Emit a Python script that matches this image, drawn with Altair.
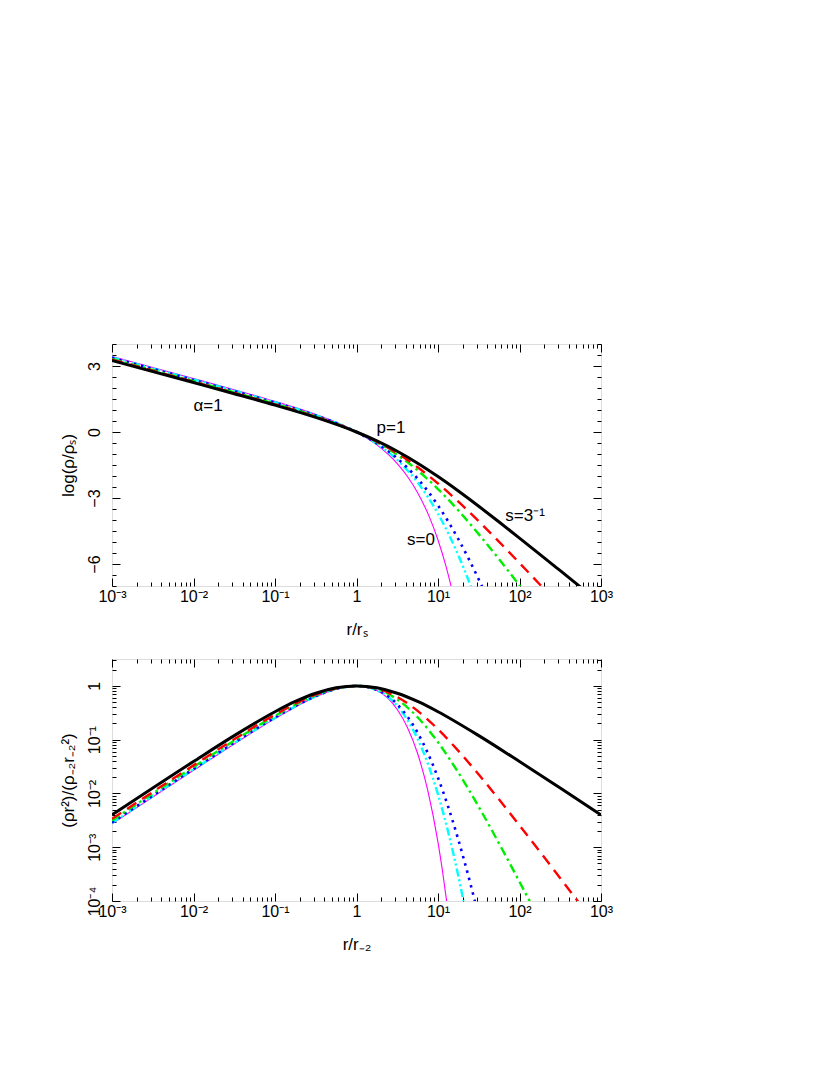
import altair as alt
import pandas as pd

FONT = "Liberation Sans"

# ---------------- data ----------------
# Top panel: x = log10(r/r_s), y = log(rho/rho_s)
t_black_L = [-3, -2, -1.5, -1, -0.5, 0, 0.25, 0.5, 0.75, 1, 1.25, 1.5, 1.75, 2, 2.25, 2.5, 2.75]
t_black_v = [3.250, 2.247, 1.741, 1.221, 0.663, 0.0, -0.404, -0.875, -1.417, -2.024, -2.681, -3.375, -4.091, -4.822, -5.560, -6.304, -7.050]
t_red_L = [-3, -2, -1.5, -1, -0.5, 0, 0.25, 0.5, 0.75, 1, 1.25, 1.5, 1.75, 2, 2.25, 2.5]
t_red_v = [3.290, 2.287, 1.780, 1.259, 0.692, 0.0, -0.439, -0.968, -1.603, -2.341, -3.168, -4.058, -4.993, -5.954, -6.932, -7.920]
t_green_L = [-3, -2, -1.5, -1, -0.5, 0, 0.25, 0.5, 0.75, 1, 1.25, 1.5, 1.75, 2, 2.25]
t_green_v = [3.316, 2.313, 1.806, 1.282, 0.710, 0.0, -0.462, -1.035, -1.742, -2.592, -3.568, -4.642, -5.785, -6.972, -8.186]
t_blue_L = [-3, -2, -1.5, -1, -0.5, 0, 0.25, 0.5, 0.75, 1, 1.125, 1.25, 1.375, 1.5, 1.6]
t_blue_v = [3.372, 2.369, 1.860, 1.334, 0.751, 0.0, -0.517, -1.202, -2.121, -3.337, -4.065, -4.872, -5.753, -6.702, -7.503]
t_cyan_L = [-3, -2, -1.5, -1, -0.5, 0, 0.25, 0.5, 0.75, 1, 1.125, 1.25, 1.325, 1.4, 1.45]
t_cyan_v = [3.392, 2.388, 1.880, 1.352, 0.766, 0.0, -0.539, -1.271, -2.294, -3.713, -4.600, -5.611, -6.278, -6.989, -7.486]
t_mag_L = [-3, -2, -1.5, -1, -0.5, 0, 0.25, 0.5, 0.625, 0.75, 0.9, 1, 1.1, 1.15, 1.2]
t_mag_v = [3.434, 2.430, 1.921, 1.391, 0.797, 0.0, -0.588, -1.439, -2.022, -2.758, -3.915, -4.909, -6.133, -6.850, -7.649]

# Bottom panel: x = log10(r/r_-2), y = log10 of (rho r^2)/(rho_-2 r_-2^2)
b_black_L = [-3, -2, -1.5, -1, -0.75, -0.5, -0.25, 0, 0.25, 0.5, 0.75, 1, 1.5, 2, 2.5, 3]
b_black_v = [-2.399, -1.407, -0.925, -0.481, -0.290, -0.137, -0.036, 0.0, -0.036, -0.137, -0.290, -0.481, -0.925, -1.407, -1.901, -2.399]
b_red_L = [-3, -2, -1.5, -1, -0.5, -0.25, 0, 0.25, 0.5, 0.75, 1, 1.25, 1.5, 1.75, 2, 2.5, 2.75]
b_red_v = [-2.472, -1.478, -0.992, -0.535, -0.163, -0.045, 0.0, -0.051, -0.207, -0.465, -0.806, -1.208, -1.649, -2.114, -2.594, -3.577, -4.073]
b_green_L = [-3, -2, -1.5, -1, -0.5, -0.25, 0, 0.25, 0.5, 0.75, 1, 1.25, 1.5, 1.75, 2, 2.25]
b_green_v = [-2.501, -1.506, -1.018, -0.557, -0.174, -0.049, 0.0, -0.059, -0.251, -0.584, -1.048, -1.613, -2.249, -2.932, -3.643, -4.371]
b_blue_L = [-3, -2, -1.5, -1, -0.5, -0.25, 0, 0.25, 0.5, 0.75, 0.875, 1, 1.125, 1.25, 1.325, 1.4, 1.45, 1.5]
b_blue_v = [-2.540, -1.545, -1.055, -0.588, -0.191, -0.055, 0.0, -0.074, -0.342, -0.870, -1.250, -1.709, -2.249, -2.864, -3.267, -3.693, -3.989, -4.293]
b_cyan_L = [-3, -2, -1.5, -1, -0.5, -0.25, 0, 0.25, 0.5, 0.75, 0.875, 1, 1.125, 1.25, 1.3, 1.35]
b_cyan_v = [-2.550, -1.554, -1.064, -0.596, -0.196, -0.057, 0.0, -0.079, -0.373, -0.985, -1.443, -2.018, -2.717, -3.540, -3.905, -4.288]
b_mag_L = [-3, -2, -1.5, -1, -0.5, -0.25, 0, 0.25, 0.5, 0.625, 0.75, 0.875, 1, 1.05, 1.1, 1.125]
b_mag_v = [-2.566, -1.570, -1.079, -0.609, -0.203, -0.060, 0.0, -0.088, -0.439, -0.772, -1.258, -1.947, -2.909, -3.389, -3.933, -4.232]

# Annotations of the top panel (r, y, text)
ann_r = [0.0151, 2.65, 6.19, 117.0]
ann_y = [1.17, 0.20, -4.90, -3.80]
ann_t = ["α=1", "p=1", "s=0", "s=3⁻¹"]

# Tick labels
x_exps = [-3, -2, -1, 0, 1, 2, 3]
x_labels = ["10⁻³", "10⁻²", "10⁻¹", "1", "10¹", "10²", "10³"]
ty_vals = [-6, -3, 0, 3]
ty_labels = ["−6", "−3", "0", "3"]
by_exps = [-4, -3, -2, -1, 0]
by_labels = ["10⁻⁴", "10⁻³", "10⁻²", "10⁻¹", "1"]

# ---------------- styles ----------------
ORDER = ["s=0", "s=1/15", "s=1/10", "s=1/5", "s=1/4", "s=1/3"]
STYLE = {
    "s=0": dict(color="#ff00ff", strokeWidth=1.1),
    "s=1/15": dict(color="#00ffff", strokeWidth=2.4, strokeDash=[8, 3, 2, 3, 2, 3]),
    "s=1/10": dict(color="#0000ff", strokeWidth=2.6, strokeDash=[2.5, 5]),
    "s=1/5": dict(color="#00ee00", strokeWidth=2.4, strokeDash=[9, 4, 2.5, 4]),
    "s=1/4": dict(color="#ff0000", strokeWidth=2.4, strokeDash=[11, 7]),
    "s=1/3": dict(color="#000000", strokeWidth=3.0),
}

top_series = {
    "s=0": (t_mag_L, t_mag_v), "s=1/15": (t_cyan_L, t_cyan_v), "s=1/10": (t_blue_L, t_blue_v),
    "s=1/5": (t_green_L, t_green_v), "s=1/4": (t_red_L, t_red_v), "s=1/3": (t_black_L, t_black_v),
}
bot_series = {
    "s=0": (b_mag_L, b_mag_v), "s=1/15": (b_cyan_L, b_cyan_v), "s=1/10": (b_blue_L, b_blue_v),
    "s=1/5": (b_green_L, b_green_v), "s=1/4": (b_red_L, b_red_v), "s=1/3": (b_black_L, b_black_v),
}


def frame(series, ylog):
    rows = []
    for name, (Ls, vs) in series.items():
        for L, v in zip(Ls, vs):
            rows.append({"series": name, "r": 10.0 ** L, "v": (10.0 ** v) if ylog else v})
    return pd.DataFrame(rows)


def log_expr(exps, labels):
    parts = [f"round(log(datum.value)/LN10) == {e} ? '{l}'" for e, l in zip(exps, labels)]
    return " : ".join(parts) + " : ''"


def lin_expr(vals, labels):
    parts = [f"round(datum.value) == {v} ? '{l}'" for v, l in zip(vals, labels)]
    return " : ".join(parts) + " : ''"


x_major = [10.0 ** e for e in x_exps]
x_minor = [k * 10.0 ** e for e in range(-3, 3) for k in range(2, 10)]

W, H = 489, 242
MAJ, MIN = 8, 4


def tick_axis(orient, values, size):
    return alt.Axis(orient=orient, values=values, tickSize=size, offset=-size, labels=False,
                    domain=False, grid=False, title=None, tickColor="black", tickWidth=1)


def panel(series, ylog, ydomain, xtitle, ytitle, y_major, y_minor, y_expr, ann=None):
    df = frame(series, ylog)
    xs = alt.Scale(type="log", domain=[1e-3, 1e3], nice=False)
    if ylog:
        ys = alt.Scale(type="log", domain=ydomain, nice=False)
    else:
        ys = alt.Scale(type="linear", domain=ydomain, nice=False, zero=False)

    x_main = alt.Axis(orient="bottom", values=x_major, labelExpr=log_expr(x_exps, x_labels),
                      tickSize=MAJ, offset=-MAJ, domain=False, grid=False, labelPadding=2,
                      labelFontSize=16, labelFont=FONT, labelColor="black", tickColor="black",
                      title=xtitle, titleFontSize=17, titleFont=FONT, titleFontWeight="normal",
                      titleColor="black", titlePadding=17, labelFlush=False, labelOverlap=False)
    y_main = alt.Axis(orient="left", values=y_major, labelExpr=y_expr, labelAngle=270,
                      labelAlign="center", labelBaseline="bottom",
                      tickSize=MAJ, offset=-MAJ, domain=False, grid=False, labelPadding=10,
                      labelFontSize=16, labelFont=FONT, labelColor="black", tickColor="black",
                      title=ytitle, titleFontSize=17, titleFont=FONT, titleFontWeight="normal",
                      titleColor="black", titlePadding=9, labelFlush=False, labelOverlap=False)

    layers = []
    first = True
    for name in ORDER:
        sub = df[df["series"] == name]
        if first:
            xe = alt.X("r:Q", scale=xs, axis=x_main)
            ye = alt.Y("v:Q", scale=ys, axis=y_main)
            first = False
        else:
            xe = alt.X("r:Q", scale=xs, axis=None)
            ye = alt.Y("v:Q", scale=ys, axis=None)
        layers.append(alt.Chart(sub).mark_line(clip=True, interpolate="monotone", **STYLE[name])
                      .encode(x=xe, y=ye))

    if ann is not None:
        layers.append(alt.Chart(ann).mark_text(font=FONT, fontSize=17, color="black",
                                               align="center", baseline="middle")
                      .encode(x=alt.X("r:Q", scale=xs, axis=None),
                              y=alt.Y("v:Q", scale=ys, axis=None), text="t:N"))

    ref = df[df["series"] == "s=1/3"]
    for xo, yo, size, xv, yv in [("bottom", "left", MIN, x_minor, y_minor),
                                 ("top", "right", MAJ, x_major, y_major),
                                 ("top", "right", MIN, x_minor, y_minor)]:
        layers.append(alt.Chart(ref).mark_point(opacity=0, clip=True)
                      .encode(x=alt.X("r:Q", scale=xs, axis=tick_axis(xo, xv, size)),
                              y=alt.Y("v:Q", scale=ys, axis=tick_axis(yo, yv, size))))

    return alt.layer(*layers).resolve_axis(x="independent", y="independent").properties(width=W, height=H)


ann_df = pd.DataFrame({"r": ann_r, "v": ann_y, "t": ann_t})

ty_minor = [-7 + 0.5 * i for i in range(23) if (-7 + 0.5 * i) not in ty_vals]
top = panel(top_series, False, [-7, 4], "r/rₛ", "log(ρ/ρₛ)", ty_vals, ty_minor,
            lin_expr(ty_vals, ty_labels), ann=ann_df)

by_major = [10.0 ** e for e in by_exps]
by_minor = [k * 10.0 ** e for e in range(-4, 1) for k in range(2, 10) if k * 10.0 ** e < 3.16]
bottom = panel(bot_series, True, [1e-4, 10 ** 0.5], "r/r₋₂", "(ρr²)/(ρ₋₂r₋₂²)", by_major, by_minor,
               log_expr(by_exps, by_labels))

chart = alt.vconcat(top, bottom, spacing=73, bounds="flush").properties(
    padding={"left": 50, "top": 335, "right": 5, "bottom": 5}
).configure_view(stroke="black", strokeWidth=1.5).configure(background="white")

chart.save("out.html", embed_options={"renderer": "svg", "actions": False})
